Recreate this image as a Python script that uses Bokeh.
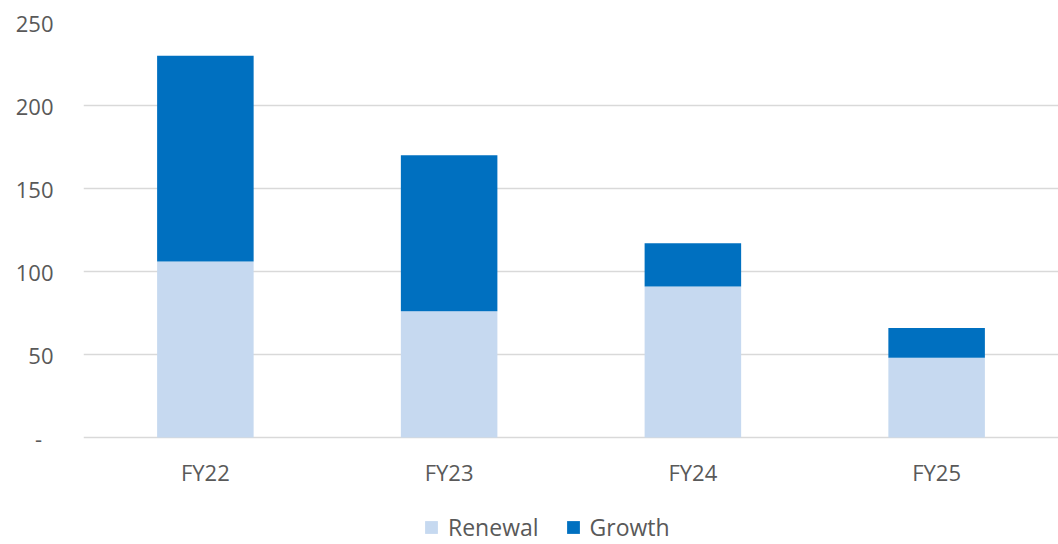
from bokeh.plotting import figure
from bokeh.models import ColumnDataSource, FixedTicker, Range1d, FactorRange, Legend, LegendItem
from bokeh.core.properties import value
from bokeh.embed import file_html
from bokeh.resources import INLINE

years = ["FY22", "FY23", "FY24", "FY25"]
renewal = [106, 76, 91, 48]
growth = [124, 94, 26, 18]
series = ["renewal", "growth"]
series_labels = ["Renewal", "Growth"]
colors = ["#C6D9F0", "#0070C0"]
y_ticks = [0, 50, 100, 150, 200, 250]

source = ColumnDataSource(dict(years=years, renewal=renewal, growth=growth,
                               base=[0] * len(years)))

FONT = "Open Sans"
TXT = "#595959"

# frame runs to the bottom of the canvas; value 0 sits 107px above it
PLOT_H, TOP, VALUE_PX = 544, 22, 415
y_start = -250 * (PLOT_H - TOP - VALUE_PX) / VALUE_PX

p = figure(x_range=FactorRange(*years, range_padding=0), y_range=Range1d(y_start, 250),
           width=1058, height=PLOT_H, output_backend="svg", toolbar_location=None,
           x_axis_location=None,
           min_border_left=83, min_border_right=0, min_border_top=TOP, min_border_bottom=0)
p.outline_line_color = None
p.background_fill_color = "white"

rs = p.vbar_stack(series, x="years", width=0.396, color=colors, line_color=None, source=source)

# category labels under the zero line
p.text(x="years", y="base", text="years", source=source, y_offset=34,
       text_align="center", text_baseline="middle",
       text_font=value(FONT), text_font_size="22px", text_color=TXT)

p.xgrid.grid_line_color = None
p.ygrid.grid_line_color = "#D9D9D9"
p.ygrid.grid_line_width = 1.6
p.yaxis.ticker = FixedTicker(ticks=y_ticks)
p.yaxis.major_label_overrides = {0: "-\u00a0\u00a0"}

ax = p.yaxis[0]
ax.axis_line_color = None
ax.major_tick_line_color = None
ax.minor_tick_line_color = None
ax.major_tick_out = 0
ax.major_tick_in = 0
ax.major_label_text_font = FONT
ax.major_label_text_font_size = "22px"
ax.major_label_text_color = TXT
ax.major_label_standoff = 30

legend = Legend(items=[LegendItem(label=l, renderers=[r]) for l, r in zip(series_labels, rs)],
                orientation="horizontal", location=(340, 1),
                label_text_font=FONT, label_text_font_size="23px", label_text_color=TXT,
                glyph_width=16, glyph_height=16, label_standoff=9, spacing=26,
                padding=0, margin=0, border_line_color=None, background_fill_alpha=0)
p.add_layout(legend, "center")

open("out.html", "w").write(file_html(p, INLINE))
